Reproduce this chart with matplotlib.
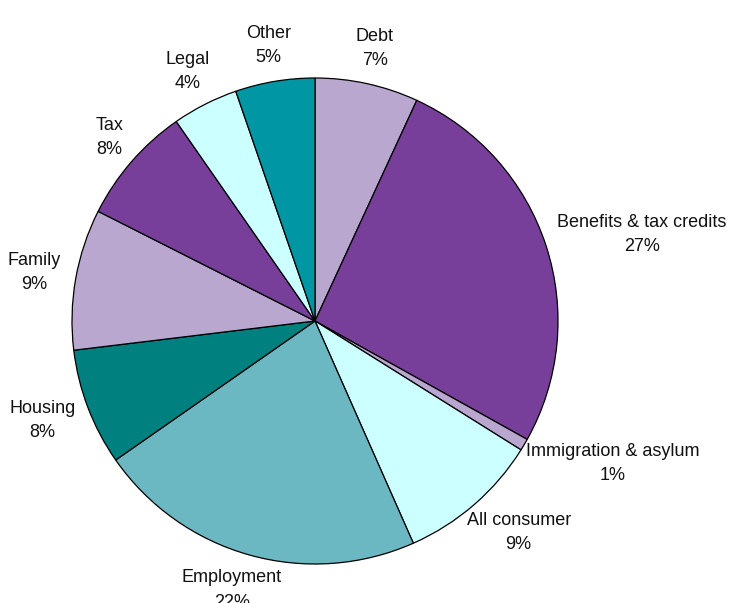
import numpy as np
import matplotlib.pyplot as plt

plt.rcParams['font.family'] = ['Liberation Sans', 'DejaVu Sans']

categories = ['Debt', 'Benefits & tax credits', 'Immigration & asylum', 'All consumer',
              'Employment', 'Housing', 'Family', 'Tax', 'Legal', 'Other']
shares = [6.9, 26.3, 0.8, 9.5, 22.0, 7.8, 9.4, 7.9, 4.4, 5.3]
pct_labels = ['7%', '27%', '1%', '9%', '22%', '8%', '9%', '8%', '4%', '5%']
colors = ['#B9A7D0', '#783F9A', '#B9A7D0', '#CCFFFF', '#6BB8C2',
          '#00807F', '#B9A7D0', '#783F9A', '#CCFFFF', '#0096A4']

fig = plt.figure(figsize=(7.34, 6.03), dpi=100)
ax = fig.add_axes([72 / 734, 39 / 603, 486 / 734, 486 / 603])

wedges, _ = ax.pie(shares, colors=colors, startangle=90, counterclock=False,
                   wedgeprops=dict(edgecolor='black', linewidth=0.9), radius=1.0)
ax.set_xlim(-1, 1)
ax.set_ylim(-1, 1)
ax.set_aspect('equal')
ax.axis('off')

renderer = fig.canvas.get_renderer()

# labels outside, pushed out by half their own size (like Excel does)
for w, cat, p in zip(wedges, categories, pct_labels):
    ang = np.deg2rad((w.theta1 + w.theta2) / 2)
    x, y = np.cos(ang), np.sin(ang)
    d = 1.065
    t = ax.annotate(cat + '\n' + p, xy=(d * x, d * y), xytext=(0, 0),
                    textcoords='offset pixels', ha='center', va='center',
                    multialignment='center', fontsize=13, linespacing=1.55,
                    color='#111111', annotation_clip=False)
    bb = t.get_window_extent(renderer)
    t.set_position((x * bb.width / 2, y * bb.height / 2))

fig.savefig('out.png', dpi=100)
